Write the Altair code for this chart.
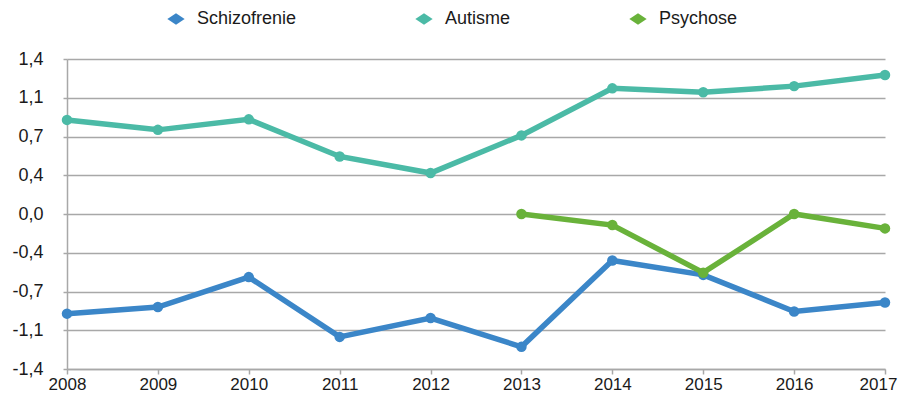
import altair as alt
import pandas as pd

years = [2008, 2009, 2010, 2011, 2012, 2013, 2014, 2015, 2016, 2017]
schizofrenie = [-0.90, -0.84, -0.57, -1.11, -0.94, -1.20, -0.42, -0.55, -0.88, -0.80]
autisme = [0.85, 0.76, 0.855, 0.52, 0.37, 0.71, 1.135, 1.10, 1.155, 1.255]
psychose = [None, None, None, None, None, 0.0, -0.10, -0.53, 0.0, -0.13]

series_names = ["Schizofrenie", "Autisme", "Psychose"]
series_colors = ["#3b86c8", "#4bbaa6", "#69b23a"]

y_tick_values = [-1.4, -1.05, -0.7, -0.35, 0.0, 0.35, 0.7, 1.05, 1.4]
y_tick_labels = ["-1,4", "-1,1", "-0,7", "-0,4", "0,0", "0,4", "0,7", "1,1", "1,4"]

rows = []
for name, vals in zip(series_names, [schizofrenie, autisme, psychose]):
    for yr, v in zip(years, vals):
        if v is not None:
            rows.append({"year": str(yr), "value": v, "serie": name})
df = pd.DataFrame(rows)

label_expr = "[" + ",".join(f"'{l}'" for l in y_tick_labels) + "][indexof([" + \
    ",".join(str(v) for v in y_tick_values) + "], datum.value)]"

FONT = "Liberation Sans"
GRAY = "#a8a8a8"
TXT = "#1a1a1a"
last_year = str(years[-1])

x_enc = alt.X("year:O", scale=alt.Scale(padding=0),
              axis=alt.Axis(title=None, labelAngle=0, labelFontSize=17, labelFont=FONT,
                            labelColor=TXT, labelPadding=2, tickSize=5, tickColor=GRAY,
                            tickWidth=1.5, domainColor=GRAY, domainWidth=1.5, grid=False,
                            labelOffset={"condition": {"test": f"datum.label == '{last_year}'",
                                                       "value": -7}, "value": 0}))
y_enc = alt.Y("value:Q", scale=alt.Scale(domain=[-1.4, 1.4], nice=False, zero=False),
              axis=alt.Axis(title=None, values=y_tick_values, labelExpr=label_expr,
                            labelFontSize=18, labelFont=FONT, labelColor=TXT,
                            labelPadding=20, tickSize=4, tickColor=GRAY, tickWidth=1.5,
                            domainColor=GRAY, domainWidth=1.5, grid=True,
                            gridColor=GRAY, gridWidth=1.5))
color_scale = alt.Scale(domain=series_names, range=series_colors)

legend = alt.Legend(
    title=None, orient="none", direction="horizontal", columns=3,
    legendX=100, legendY=-49,
    symbolType="M-1,0L0,-0.65L1,0L0,0.65Z", symbolSize=300,
    symbolStrokeWidth=0,
    labelFontSize=18, labelFont=FONT, labelColor=TXT,
    columnPadding=118, labelOffset=12,
)

lines = alt.Chart(df).mark_line(strokeWidth=5.5).encode(
    x=x_enc, y=y_enc,
    color=alt.Color("serie:N", scale=color_scale, legend=None),
    order=alt.Order("year:O"),
)
points = alt.Chart(df).mark_circle(size=110, opacity=1).encode(
    x=x_enc, y=y_enc,
    color=alt.Color("serie:N", scale=color_scale, legend=legend),
)

chart = alt.layer(lines, points).resolve_legend(color="independent").properties(
    width=818, height=310,
    padding={"left": 59, "top": 51, "right": 13, "bottom": 24},
    autosize=alt.AutoSizeParams(type="none"),
).configure_view(stroke=None)

chart.save("out.html", embed_options={"renderer": "svg", "actions": False})
